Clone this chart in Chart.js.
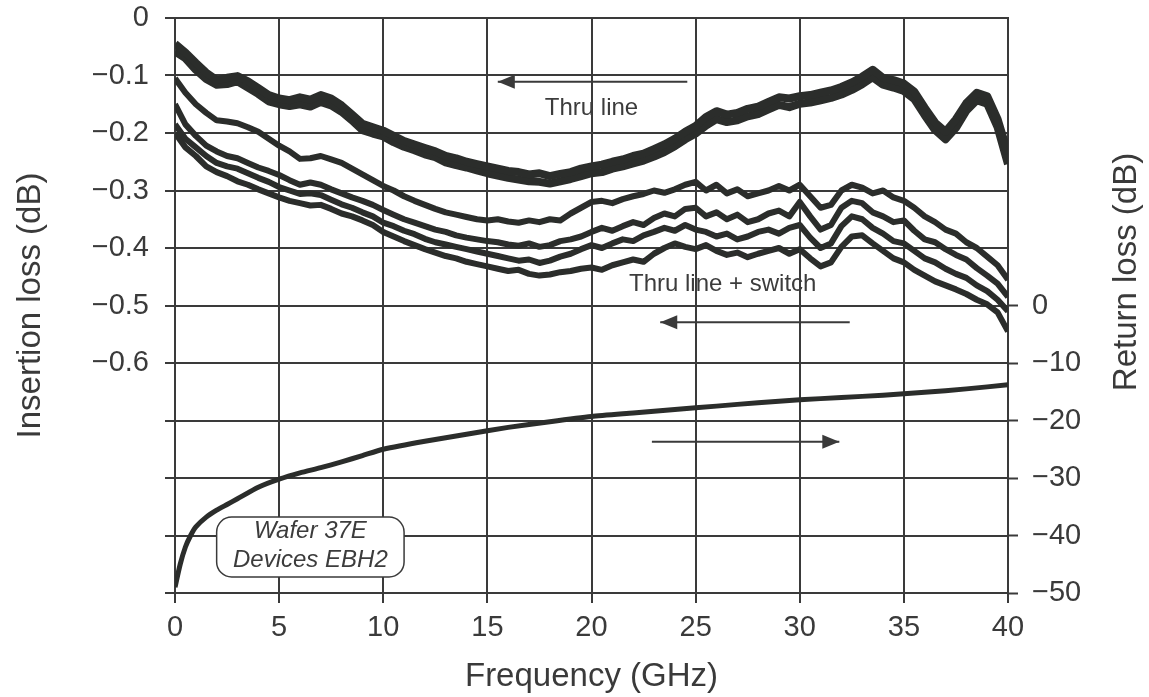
<!DOCTYPE html>
<html>
<head>
<meta charset="utf-8">
<script src="https://cdn.jsdelivr.net/npm/chart.js@4.4.1/dist/chart.umd.min.js"></script>
<style>
  html, body { margin: 0; padding: 0; background: #fff; }
  #wrap { width: 1149px; height: 697px; }
</style>
</head>
<body>
<div id="wrap"><canvas id="c" width="1149" height="697"></canvas></div>
<script>
// Frequency grid (GHz) for the insertion loss traces
var FREQ = [0, 0.5, 1, 1.5, 2, 2.5, 3, 3.5, 4, 4.5, 5, 5.5, 6, 6.5, 7, 7.5, 8, 8.5, 9, 9.5,
  10, 10.5, 11, 11.5, 12, 12.5, 13, 13.5, 14, 14.5, 15, 15.5, 16, 16.5, 17, 17.5, 18, 18.5, 19, 19.5,
  20, 20.5, 21, 21.5, 22, 22.5, 23, 23.5, 24, 24.5, 25, 25.5, 26, 26.5, 27, 27.5, 28, 28.5, 29, 29.5,
  30, 30.5, 31, 31.5, 32, 32.5, 33, 33.5, 34, 34.5, 35, 35.5, 36, 36.5, 37, 37.5, 38, 38.5, 39, 39.5, 40];

// Insertion loss (dB), thru line (two overlapping traces)
var THRU_A = [-0.045, -0.060, -0.078, -0.095, -0.108, -0.104, -0.101, -0.110, -0.122, -0.134,
  -0.140, -0.143, -0.138, -0.142, -0.134, -0.140, -0.152, -0.168, -0.184, -0.190,
  -0.196, -0.205, -0.214, -0.220, -0.226, -0.232, -0.240, -0.244, -0.250, -0.254,
  -0.258, -0.262, -0.266, -0.268, -0.272, -0.270, -0.275, -0.271, -0.268, -0.262,
  -0.258, -0.255, -0.250, -0.246, -0.240, -0.236, -0.228, -0.220, -0.210, -0.198,
  -0.188, -0.172, -0.162, -0.168, -0.165, -0.158, -0.154, -0.146, -0.138, -0.140,
  -0.136, -0.134, -0.130, -0.126, -0.120, -0.112, -0.102, -0.090, -0.104, -0.108,
  -0.114, -0.128, -0.156, -0.182, -0.198, -0.176, -0.148, -0.130, -0.136, -0.176, -0.236];
var THRU_B = [-0.058, -0.070, -0.090, -0.106, -0.116, -0.115, -0.110, -0.121, -0.132, -0.145,
  -0.150, -0.153, -0.150, -0.154, -0.146, -0.152, -0.163, -0.178, -0.195, -0.201,
  -0.206, -0.216, -0.224, -0.230, -0.237, -0.242, -0.251, -0.256, -0.260, -0.265,
  -0.270, -0.274, -0.278, -0.281, -0.284, -0.285, -0.288, -0.284, -0.280, -0.275,
  -0.270, -0.268, -0.262, -0.258, -0.253, -0.248, -0.241, -0.233, -0.223, -0.211,
  -0.201, -0.187, -0.176, -0.181, -0.178, -0.171, -0.167, -0.159, -0.151, -0.155,
  -0.149, -0.147, -0.143, -0.139, -0.133, -0.125, -0.115, -0.103, -0.116, -0.121,
  -0.127, -0.141, -0.169, -0.195, -0.211, -0.191, -0.161, -0.143, -0.149, -0.190, -0.254];

// Insertion loss (dB), thru line + switch (four devices)
var SW_1 = [-0.105, -0.130, -0.150, -0.165, -0.178, -0.180, -0.183, -0.190, -0.198, -0.210,
  -0.222, -0.232, -0.245, -0.244, -0.240, -0.246, -0.252, -0.262, -0.272, -0.282,
  -0.292, -0.300, -0.310, -0.318, -0.325, -0.332, -0.338, -0.342, -0.346, -0.350,
  -0.352, -0.350, -0.354, -0.356, -0.352, -0.355, -0.350, -0.352, -0.340, -0.330,
  -0.320, -0.318, -0.322, -0.315, -0.310, -0.306, -0.300, -0.304, -0.298, -0.290,
  -0.285, -0.300, -0.290, -0.305, -0.298, -0.310, -0.305, -0.300, -0.292, -0.300,
  -0.290, -0.310, -0.330, -0.325, -0.300, -0.290, -0.295, -0.305, -0.300, -0.312,
  -0.318, -0.330, -0.345, -0.355, -0.368, -0.375, -0.390, -0.400, -0.415, -0.430, -0.455];
var SW_2 = [-0.150, -0.185, -0.205, -0.222, -0.232, -0.240, -0.244, -0.252, -0.260, -0.266,
  -0.273, -0.282, -0.290, -0.286, -0.290, -0.298, -0.305, -0.312, -0.318, -0.325,
  -0.334, -0.342, -0.350, -0.356, -0.362, -0.368, -0.372, -0.378, -0.382, -0.385,
  -0.388, -0.390, -0.394, -0.396, -0.392, -0.398, -0.395, -0.388, -0.385, -0.380,
  -0.372, -0.365, -0.370, -0.362, -0.355, -0.360, -0.348, -0.340, -0.345, -0.332,
  -0.330, -0.345, -0.338, -0.350, -0.342, -0.355, -0.350, -0.340, -0.335, -0.345,
  -0.320, -0.345, -0.368, -0.360, -0.330, -0.318, -0.322, -0.338, -0.345, -0.355,
  -0.352, -0.370, -0.385, -0.390, -0.402, -0.412, -0.420, -0.435, -0.448, -0.462, -0.485];
var SW_3 = [-0.185, -0.210, -0.225, -0.240, -0.252, -0.258, -0.262, -0.270, -0.278, -0.285,
  -0.294, -0.300, -0.306, -0.305, -0.308, -0.316, -0.324, -0.330, -0.338, -0.345,
  -0.356, -0.362, -0.370, -0.376, -0.384, -0.390, -0.394, -0.398, -0.402, -0.406,
  -0.410, -0.414, -0.418, -0.422, -0.420, -0.426, -0.422, -0.415, -0.410, -0.402,
  -0.395, -0.400, -0.392, -0.385, -0.388, -0.378, -0.372, -0.365, -0.370, -0.360,
  -0.368, -0.372, -0.380, -0.375, -0.385, -0.380, -0.372, -0.368, -0.375, -0.365,
  -0.360, -0.382, -0.400, -0.392, -0.362, -0.345, -0.350, -0.365, -0.375, -0.388,
  -0.392, -0.405, -0.418, -0.425, -0.436, -0.445, -0.452, -0.465, -0.475, -0.490, -0.510];
var SW_4 = [-0.200, -0.225, -0.240, -0.258, -0.268, -0.275, -0.284, -0.290, -0.298, -0.305,
  -0.312, -0.318, -0.322, -0.326, -0.325, -0.332, -0.340, -0.345, -0.352, -0.360,
  -0.372, -0.380, -0.388, -0.395, -0.402, -0.408, -0.414, -0.418, -0.424, -0.428,
  -0.432, -0.436, -0.440, -0.438, -0.445, -0.448, -0.446, -0.442, -0.440, -0.436,
  -0.434, -0.438, -0.430, -0.425, -0.420, -0.424, -0.410, -0.400, -0.392, -0.398,
  -0.402, -0.395, -0.405, -0.412, -0.408, -0.416, -0.410, -0.405, -0.400, -0.410,
  -0.402, -0.418, -0.432, -0.425, -0.398, -0.380, -0.378, -0.392, -0.405, -0.418,
  -0.425, -0.438, -0.448, -0.458, -0.465, -0.472, -0.480, -0.490, -0.498, -0.512, -0.545];

// Return loss (dB), right axis
var RL_FREQ = [0, 0.25, 0.5, 0.75, 1, 1.5, 2, 2.5, 3, 4, 5, 6, 7, 8, 9, 10,
  12, 14, 16, 18, 20, 22, 24, 26, 28, 30, 32, 34, 36, 38, 40];
var RL = [-49, -45, -42, -40, -38.5, -36.8, -35.6, -34.6, -33.6, -31.6, -30.2, -29.1, -28.2, -27.2, -26.1, -25.0,
  -23.6, -22.4, -21.2, -20.2, -19.3, -18.7, -18.1, -17.5, -16.9, -16.4, -16.0, -15.6, -15.1, -14.5, -13.8];

var X_TICKS = [0, 5, 10, 15, 20, 25, 30, 35, 40];

var INK = "#2b2d2b";
var AXIS = "#3a3a3a";
var FONT = "'Liberation Sans', Arial, Helvetica, sans-serif";

function pts(xs, ys) {
  return xs.map(function(x, i) { return { x: x, y: ys[i] }; });
}

function trace(ys, width) {
  return { data: pts(FREQ, ys), yAxisID: "y", borderColor: INK, borderWidth: width,
           borderJoinStyle: "round", pointRadius: 0, tension: 0, fill: false };
}

// arrows, notes and the right-hand title
var notes = {
  id: "notes",
  afterDatasetsDraw: function(chart) {
    var ctx = chart.ctx, x = chart.scales.x, y = chart.scales.y, y2 = chart.scales.y2;

    function arrow(f0, f1, py, dir) {
      var xa = x.getPixelForValue(f0), xb = x.getPixelForValue(f1);
      ctx.save();
      ctx.strokeStyle = AXIS; ctx.fillStyle = AXIS; ctx.lineWidth = 2;
      ctx.beginPath(); ctx.moveTo(xa, py); ctx.lineTo(xb, py); ctx.stroke();
      var tip = dir < 0 ? xa : xb;
      ctx.beginPath();
      ctx.moveTo(tip, py);
      ctx.lineTo(tip - dir * 17, py - 7);
      ctx.lineTo(tip - dir * 17, py + 7);
      ctx.closePath(); ctx.fill();
      ctx.restore();
    }

    arrow(15.5, 24.6, y.getPixelForValue(-0.111), -1);
    arrow(23.3, 32.4, y.getPixelForValue(-0.529), -1);
    arrow(22.9, 31.9, y2.getPixelForValue(-23.7), 1);

    ctx.save();
    ctx.fillStyle = "#3c3c3c";
    ctx.font = "24px " + FONT;
    ctx.textAlign = "center"; ctx.textBaseline = "middle";
    ctx.fillText("Thru line", x.getPixelForValue(20), y.getPixelForValue(-0.157));
    ctx.fillText("Thru line + switch", x.getPixelForValue(26.3), y.getPixelForValue(-0.464));

    // device label box
    var bx0 = x.getPixelForValue(2.0), bx1 = x.getPixelForValue(11.0);
    var by0 = y.getPixelForValue(-0.868), by1 = y.getPixelForValue(-0.972);
    ctx.beginPath();
    ctx.roundRect(bx0, by0, bx1 - bx0, by1 - by0, 15);
    ctx.fillStyle = "#fff"; ctx.fill();
    ctx.lineWidth = 1.5; ctx.strokeStyle = AXIS; ctx.stroke();
    ctx.fillStyle = "#3c3c3c";
    ctx.font = "italic 24px " + FONT;
    var cx = (bx0 + bx1) / 2;
    ctx.fillText("Wafer 37E", cx, by0 + 14);
    ctx.fillText("Devices EBH2", cx, by0 + 43);
    ctx.restore();

    // right axis title, reading bottom to top
    ctx.save();
    ctx.translate(chart.width - 22, 272);
    ctx.rotate(-Math.PI / 2);
    ctx.fillStyle = AXIS;
    ctx.font = "33px " + FONT;
    ctx.textAlign = "center"; ctx.textBaseline = "middle";
    ctx.fillText("Return loss (dB)", 0, 0);
    ctx.restore();
  }
};

var gridOpts = { color: AXIS, lineWidth: 2, tickLength: 10, tickWidth: 2, tickColor: AXIS };

function noPad(a) { a.paddingTop = 0; a.paddingBottom = 0; a.paddingLeft = 0; a.paddingRight = 0; }

new Chart(document.getElementById("c").getContext("2d"), {
  type: "line",
  data: {
    datasets: [
      trace(THRU_A, 8), trace(THRU_B, 8),
      trace(SW_1, 6), trace(SW_2, 6), trace(SW_3, 6), trace(SW_4, 6),
      { data: pts(RL_FREQ, RL), yAxisID: "y2", borderColor: INK, borderWidth: 5,
        pointRadius: 0, tension: 0.2, fill: false }
    ]
  },
  options: {
    responsive: false,
    animation: false,
    layout: { padding: { top: 18, bottom: 0, left: 0, right: 0 } },
    plugins: { legend: { display: false }, tooltip: { enabled: false } },
    scales: {
      x: {
        type: "linear", min: 0, max: 40,
        afterBuildTicks: function(a) { a.ticks = X_TICKS.map(function(v) { return { value: v }; }); },
        afterFit: function(a) { a.height = 104; noPad(a); },
        ticks: { color: AXIS, font: { size: 29, family: FONT }, padding: 8, maxRotation: 0 },
        grid: gridOpts,
        border: { color: AXIS, width: 2 },
        title: { display: true, text: "Frequency (GHz)", color: AXIS,
                 font: { size: 33, family: FONT }, padding: { top: 0, bottom: 0 } }
      },
      y: {
        position: "left", min: -1, max: 0,
        afterFit: function(a) { a.width = 175; noPad(a); },
        ticks: {
          stepSize: 0.1, color: AXIS, font: { size: 29, family: FONT }, padding: 16,
          callback: function(v) {
            var n = Math.round(v * 10);
            if (n < -6) return "";
            return n === 0 ? "0" : "\u2212" + (Math.abs(n) / 10).toFixed(1);
          }
        },
        grid: gridOpts,
        border: { color: AXIS, width: 2 },
        title: { display: true, text: "Insertion loss (dB)", color: AXIS,
                 font: { size: 33, family: FONT }, padding: { top: 11, bottom: 0 } }
      },
      y2: {
        position: "right", min: -50, max: 50,
        afterBuildTicks: function(a) { a.ticks = a.ticks.filter(function(t) { return t.value <= 0; }); },
        afterFit: function(a) { a.width = 141; noPad(a); },
        ticks: {
          stepSize: 10, color: AXIS, font: { size: 29, family: FONT }, padding: 14,
          callback: function(v) { return v === 0 ? "0" : "\u2212" + Math.abs(v); }
        },
        grid: { drawOnChartArea: false, tickLength: 10, tickWidth: 2, tickColor: AXIS, color: AXIS },
        border: { color: AXIS, width: 2 }
      }
    }
  },
  plugins: [notes]
});
</script>
</body>
</html>
